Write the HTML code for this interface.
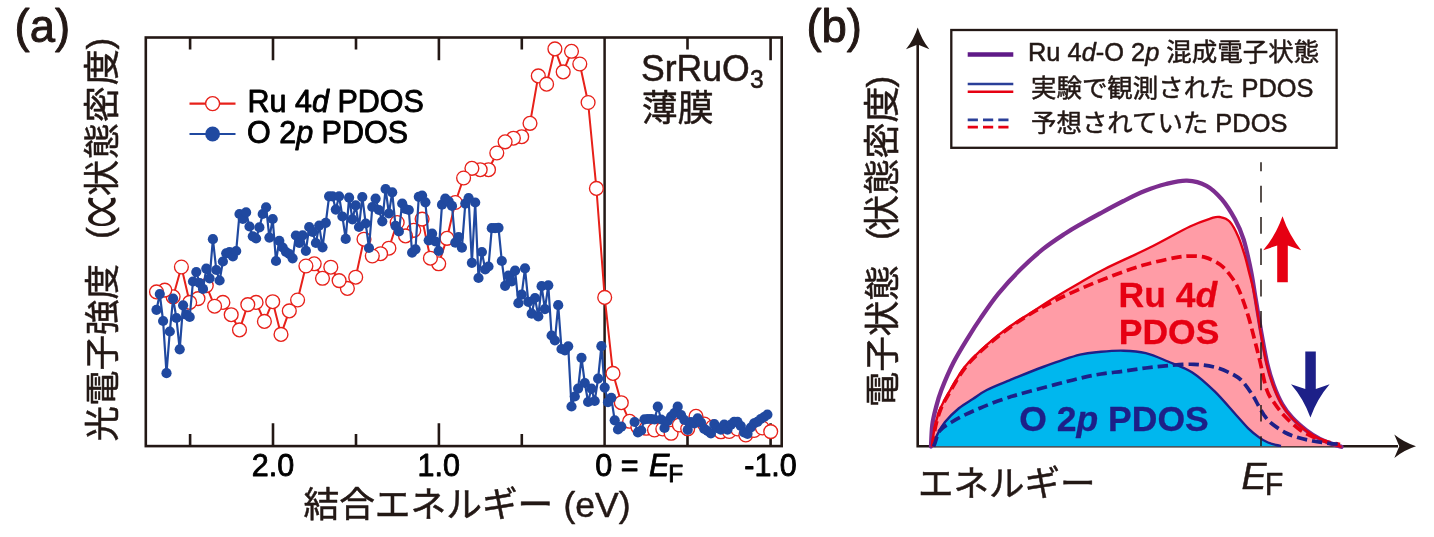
<!DOCTYPE html>
<html lang="ja"><head><meta charset="utf-8"><title>SrRuO3 PDOS</title>
<style>html,body{margin:0;padding:0;background:#fff;overflow:hidden;}svg{display:block;filter:blur(0.45px);}text{font-family:"Liberation Sans","Noto Sans CJK JP",sans-serif;fill:#231815;stroke:#231815;stroke-width:0.5px;stroke-linejoin:round;}.cj{font-family:"Noto Sans CJK JP","Liberation Sans",sans-serif;}.k{fill:#000;stroke:#000;stroke-width:0.85px;}.la{font-family:"Liberation Sans",sans-serif;}.i{font-style:italic;}.b{font-weight:bold;}</style></head><body>
<svg width="1434" height="537" viewBox="0 0 1434 537">
<rect width="1434" height="537" fill="#fff"/>
<g id="panel-a">
<text transform="translate(14.6,42.2) scale(1,1.035)" font-size="45.5" style="stroke-width:0.95px">(a)</text>
<text class="cj" transform="translate(115.3,441.5) rotate(-90)" font-size="35.5"><tspan x="0">光電子強度 </tspan><tspan class="la" x="202.5" y="-3.3">(</tspan><tspan x="214.3" y="12.8" font-size="69.2" textLength="35" lengthAdjust="spacingAndGlyphs" style="stroke:none">∝</tspan><tspan x="245.5" y="0" font-size="36" letter-spacing="0.9">状態密度</tspan><tspan class="la" x="392" y="-3.3">)</tspan></text>
<rect x="145.8" y="37.5" width="635.9" height="408.6" fill="none" stroke="#231815" stroke-width="2.6"/>
<line x1="604.6" y1="37.5" x2="604.6" y2="446.1" stroke="#231815" stroke-width="2.5"/>
<path d="M190.1 37.5v12M190.1 446.1v-12M273 37.5v22.8M273 446.1v-22.8M356 37.5v12M356 446.1v-12M438.9 37.5v22.8M438.9 446.1v-22.8M521.8 37.5v12M521.8 446.1v-12M687.5 37.5v12M687.5 446.1v-12M770.6 37.5v22.8M770.6 446.1v-22.8" stroke="#231815" stroke-width="2.6" fill="none"/>
<polyline points="156.5,291.9 164.8,290.1 173.1,296.8 181.4,267 189.7,302.4 198,298.6 206.3,285.6 214.6,306.2 222.9,302.4 231.2,314.7 239.5,329.9 247.8,304.6 256.1,302.4 264.4,321.4 272.7,301.7 281,334.4 289.3,310.9 297.6,300 305.9,266 314.2,263.8 322.5,278.3 330.8,267.2 339.1,280.6 347.4,288.4 355.7,277.2 364,239.2 372.3,256 380.6,253.7 388.9,248.2 397.2,222.5 405.5,235.9 413.8,230.3 422.1,219.1 430.4,258.2 438.7,263.8 447,238.3 455.3,202.5 463.6,178 471.9,168.3 480.2,169.7 488.5,169.7 496.8,153 505.1,141.8 513.4,138.2 521.7,136.7 530,123.3 538.3,75.9 546.6,84.2 554.9,48.9 563.2,71.9 571.5,51.3 579.8,64 588.1,102.5 596.4,188.4 604.7,297.4 613,373.4 621.3,402.7 629.6,421.3 637.9,427 646.2,428.3 654.5,430 662.8,429 671.1,433.3 679.4,425 687.7,428.8 696,416.3 704.3,424 712.6,427 720.9,431.8 729.2,431.5 737.5,429 745.8,435 754.1,430.5 762.4,428 770.7,431.6" fill="none" stroke="#e7211a" stroke-width="2" stroke-linejoin="round"/>
<g fill="#fff" stroke="#e7211a" stroke-width="1.35">
<circle cx="521.7" cy="136.7" r="6.9"/>
<circle cx="513.4" cy="138.2" r="6.9"/>
<circle cx="505.1" cy="141.8" r="6.9"/>
<circle cx="496.8" cy="153" r="6.9"/>
<circle cx="488.5" cy="169.7" r="6.9"/>
<circle cx="480.2" cy="169.7" r="6.9"/>
<circle cx="471.9" cy="168.3" r="6.9"/>
<circle cx="463.6" cy="178" r="6.9"/>
<circle cx="455.3" cy="202.5" r="6.9"/>
<circle cx="447" cy="238.3" r="6.9"/>
<circle cx="438.7" cy="263.8" r="6.9"/>
<circle cx="430.4" cy="258.2" r="6.9"/>
<circle cx="422.1" cy="219.1" r="6.9"/>
<circle cx="413.8" cy="230.3" r="6.9"/>
<circle cx="405.5" cy="235.9" r="6.9"/>
<circle cx="397.2" cy="222.5" r="6.9"/>
<circle cx="388.9" cy="248.2" r="6.9"/>
<circle cx="380.6" cy="253.7" r="6.9"/>
<circle cx="372.3" cy="256" r="6.9"/>
<circle cx="364" cy="239.2" r="6.9"/>
<circle cx="355.7" cy="277.2" r="6.9"/>
<circle cx="347.4" cy="288.4" r="6.9"/>
<circle cx="339.1" cy="280.6" r="6.9"/>
<circle cx="330.8" cy="267.2" r="6.9"/>
<circle cx="322.5" cy="278.3" r="6.9"/>
<circle cx="314.2" cy="263.8" r="6.9"/>
<circle cx="305.9" cy="266" r="6.9"/>
<circle cx="297.6" cy="300" r="6.9"/>
<circle cx="289.3" cy="310.9" r="6.9"/>
<circle cx="281" cy="334.4" r="6.9"/>
<circle cx="272.7" cy="301.7" r="6.9"/>
<circle cx="264.4" cy="321.4" r="6.9"/>
<circle cx="256.1" cy="302.4" r="6.9"/>
<circle cx="247.8" cy="304.6" r="6.9"/>
<circle cx="239.5" cy="329.9" r="6.9"/>
<circle cx="231.2" cy="314.7" r="6.9"/>
<circle cx="222.9" cy="302.4" r="6.9"/>
<circle cx="214.6" cy="306.2" r="6.9"/>
<circle cx="206.3" cy="285.6" r="6.9"/>
<circle cx="198" cy="298.6" r="6.9"/>
<circle cx="189.7" cy="302.4" r="6.9"/>
<circle cx="181.4" cy="267" r="6.9"/>
<circle cx="173.1" cy="296.8" r="6.9"/>
<circle cx="164.8" cy="290.1" r="6.9"/>
<circle cx="156.5" cy="291.9" r="6.9"/>
<circle cx="530" cy="123.3" r="6.9"/>
<circle cx="538.3" cy="75.9" r="6.9"/>
<circle cx="546.6" cy="84.2" r="6.9"/>
<circle cx="554.9" cy="48.9" r="6.9"/>
<circle cx="563.2" cy="71.9" r="6.9"/>
<circle cx="571.5" cy="51.3" r="6.9"/>
<circle cx="579.8" cy="64" r="6.9"/>
<circle cx="588.1" cy="102.5" r="6.9"/>
<circle cx="596.4" cy="188.4" r="6.9"/>
<circle cx="604.7" cy="297.4" r="6.9"/>
<circle cx="613" cy="373.4" r="6.9"/>
<circle cx="621.3" cy="402.7" r="6.9"/>
<circle cx="629.6" cy="421.3" r="6.9"/>
<circle cx="637.9" cy="427" r="6.9"/>
<circle cx="646.2" cy="428.3" r="6.9"/>
<circle cx="654.5" cy="430" r="6.9"/>
<circle cx="662.8" cy="429" r="6.9"/>
<circle cx="671.1" cy="433.3" r="6.9"/>
<circle cx="679.4" cy="425" r="6.9"/>
<circle cx="687.7" cy="428.8" r="6.9"/>
<circle cx="696" cy="416.3" r="6.9"/>
<circle cx="704.3" cy="424" r="6.9"/>
<circle cx="712.6" cy="427" r="6.9"/>
<circle cx="720.9" cy="431.8" r="6.9"/>
<circle cx="729.2" cy="431.5" r="6.9"/>
<circle cx="737.5" cy="429" r="6.9"/>
<circle cx="745.8" cy="435" r="6.9"/>
<circle cx="754.1" cy="430.5" r="6.9"/>
<circle cx="762.4" cy="428" r="6.9"/>
<circle cx="770.7" cy="431.6" r="6.9"/>
</g>
<polyline points="156.5,309.8 159.8,294.1 163.1,321 166.5,373.2 169.8,331.5 173.1,298.6 176.4,318 179.7,349.3 183.1,305.3 186.4,314.7 189.7,317 193,281.5 196.3,272 199.7,283.2 203,288.9 206.3,268.7 209.6,278.3 212.9,239.2 216.3,270 219.6,280.5 222.9,261.5 226.2,253.3 229.5,252 232.9,256.4 236.2,251 239.5,214 242.8,219 246.1,212.4 249.5,226.5 252.8,236.3 256.1,238.5 259.4,227.4 262.7,214 266.1,207.3 269.4,237.6 272.7,219 276,261 279.3,240.8 282.7,247.5 286,252 289.3,254 292.6,258.3 295.9,235.5 299.3,243 302.6,235.4 305.9,250.8 309.2,227 312.5,231.9 315.9,243 319.2,225.6 322.5,247.3 325.8,222.8 329.1,196.3 332.5,196.3 335.8,209.6 339.1,196.3 342.4,216.5 345.7,238.9 349.1,197.7 352.4,219.3 355.7,205.4 359,227 362.3,197 365.7,223.5 369,248 372.3,207 375.6,198.7 378.9,210 382.3,221.3 385.6,189 388.9,213.5 392.2,192.3 395.5,225.8 398.9,231.4 402.2,203.5 405.5,209 408.8,210 412.1,252.6 415.5,249.3 418.8,196.8 422.1,195.6 425.4,202.3 428.7,240.3 432.1,233.7 435.4,241.5 438.7,251 442,204.7 445.3,198.7 448.7,201.4 452,205.9 455.3,242.7 458.6,237 461.9,247.7 465.3,203.6 468.6,198 471.9,262.8 475.2,202.5 478.5,278 481.9,252 485.2,269.5 488.5,266.5 491.8,228.2 495.1,228.2 498.5,227.8 501.8,261 505.1,285.8 508.4,275.7 511.7,281.3 515.1,270.6 518.4,303.2 521.7,294.7 525,268.3 528.3,301.8 531.7,313.7 535,298 538.3,316.4 541.6,286.2 544.9,309.2 548.3,285.3 551.6,335.5 554.9,340.5 558.2,305.2 561.5,349 564.9,350.3 568.2,346.3 571.5,406.5 574.8,396.5 578.1,388.6 581.5,357.8 584.8,383 588.1,402 591.4,388.6 594.7,401 598.1,378.6 601.4,346.2 604.7,387.6 608,402.2 611.3,397.8 614.7,420.3 618,429.5 621.3,426.7" fill="none" stroke="#2049a0" stroke-width="2.2" stroke-linejoin="round"/>
<polyline points="634.6,422 637.9,432.4 641.2,430.5 644.5,419.3 647.9,419 651.2,419 654.5,419.5 657.8,406.7 661.1,419.5 664.5,428 667.8,421 671.1,416.5 674.4,413 677.7,406.7 681.1,415.2 684.4,420 687.7,429.8 691,422 694.3,423.3 697.7,418.4 701,422.6 704.3,428.9 707.6,431 710.9,433.5 714.3,424 717.6,428.2 720.9,429.6 724.2,424.7 727.5,429.6 730.9,424.7 734.2,421.9 737.5,421.9 740.8,426 744.1,432.4 747.5,433.8 750.8,427.5 754.1,423.3 757.4,421.9 760.7,419 764.1,417 767.4,414.6" fill="none" stroke="#2049a0" stroke-width="2.2" stroke-linejoin="round"/>
<g fill="#2049a0">
<circle cx="156.5" cy="309.8" r="5.1"/>
<circle cx="159.8" cy="294.1" r="5.1"/>
<circle cx="163.1" cy="321" r="5.1"/>
<circle cx="166.5" cy="373.2" r="5.1"/>
<circle cx="169.8" cy="331.5" r="5.1"/>
<circle cx="173.1" cy="298.6" r="5.1"/>
<circle cx="176.4" cy="318" r="5.1"/>
<circle cx="179.7" cy="349.3" r="5.1"/>
<circle cx="183.1" cy="305.3" r="5.1"/>
<circle cx="186.4" cy="314.7" r="5.1"/>
<circle cx="189.7" cy="317" r="5.1"/>
<circle cx="193" cy="281.5" r="5.1"/>
<circle cx="196.3" cy="272" r="5.1"/>
<circle cx="199.7" cy="283.2" r="5.1"/>
<circle cx="203" cy="288.9" r="5.1"/>
<circle cx="206.3" cy="268.7" r="5.1"/>
<circle cx="209.6" cy="278.3" r="5.1"/>
<circle cx="212.9" cy="239.2" r="5.1"/>
<circle cx="216.3" cy="270" r="5.1"/>
<circle cx="219.6" cy="280.5" r="5.1"/>
<circle cx="222.9" cy="261.5" r="5.1"/>
<circle cx="226.2" cy="253.3" r="5.1"/>
<circle cx="229.5" cy="252" r="5.1"/>
<circle cx="232.9" cy="256.4" r="5.1"/>
<circle cx="236.2" cy="251" r="5.1"/>
<circle cx="239.5" cy="214" r="5.1"/>
<circle cx="242.8" cy="219" r="5.1"/>
<circle cx="246.1" cy="212.4" r="5.1"/>
<circle cx="249.5" cy="226.5" r="5.1"/>
<circle cx="252.8" cy="236.3" r="5.1"/>
<circle cx="256.1" cy="238.5" r="5.1"/>
<circle cx="259.4" cy="227.4" r="5.1"/>
<circle cx="262.7" cy="214" r="5.1"/>
<circle cx="266.1" cy="207.3" r="5.1"/>
<circle cx="269.4" cy="237.6" r="5.1"/>
<circle cx="272.7" cy="219" r="5.1"/>
<circle cx="276" cy="261" r="5.1"/>
<circle cx="279.3" cy="240.8" r="5.1"/>
<circle cx="282.7" cy="247.5" r="5.1"/>
<circle cx="286" cy="252" r="5.1"/>
<circle cx="289.3" cy="254" r="5.1"/>
<circle cx="292.6" cy="258.3" r="5.1"/>
<circle cx="295.9" cy="235.5" r="5.1"/>
<circle cx="299.3" cy="243" r="5.1"/>
<circle cx="302.6" cy="235.4" r="5.1"/>
<circle cx="305.9" cy="250.8" r="5.1"/>
<circle cx="309.2" cy="227" r="5.1"/>
<circle cx="312.5" cy="231.9" r="5.1"/>
<circle cx="315.9" cy="243" r="5.1"/>
<circle cx="319.2" cy="225.6" r="5.1"/>
<circle cx="322.5" cy="247.3" r="5.1"/>
<circle cx="325.8" cy="222.8" r="5.1"/>
<circle cx="329.1" cy="196.3" r="5.1"/>
<circle cx="332.5" cy="196.3" r="5.1"/>
<circle cx="335.8" cy="209.6" r="5.1"/>
<circle cx="339.1" cy="196.3" r="5.1"/>
<circle cx="342.4" cy="216.5" r="5.1"/>
<circle cx="345.7" cy="238.9" r="5.1"/>
<circle cx="349.1" cy="197.7" r="5.1"/>
<circle cx="352.4" cy="219.3" r="5.1"/>
<circle cx="355.7" cy="205.4" r="5.1"/>
<circle cx="359" cy="227" r="5.1"/>
<circle cx="362.3" cy="197" r="5.1"/>
<circle cx="365.7" cy="223.5" r="5.1"/>
<circle cx="369" cy="248" r="5.1"/>
<circle cx="372.3" cy="207" r="5.1"/>
<circle cx="375.6" cy="198.7" r="5.1"/>
<circle cx="378.9" cy="210" r="5.1"/>
<circle cx="382.3" cy="221.3" r="5.1"/>
<circle cx="385.6" cy="189" r="5.1"/>
<circle cx="388.9" cy="213.5" r="5.1"/>
<circle cx="392.2" cy="192.3" r="5.1"/>
<circle cx="395.5" cy="225.8" r="5.1"/>
<circle cx="398.9" cy="231.4" r="5.1"/>
<circle cx="402.2" cy="203.5" r="5.1"/>
<circle cx="405.5" cy="209" r="5.1"/>
<circle cx="408.8" cy="210" r="5.1"/>
<circle cx="412.1" cy="252.6" r="5.1"/>
<circle cx="415.5" cy="249.3" r="5.1"/>
<circle cx="418.8" cy="196.8" r="5.1"/>
<circle cx="422.1" cy="195.6" r="5.1"/>
<circle cx="425.4" cy="202.3" r="5.1"/>
<circle cx="428.7" cy="240.3" r="5.1"/>
<circle cx="432.1" cy="233.7" r="5.1"/>
<circle cx="435.4" cy="241.5" r="5.1"/>
<circle cx="438.7" cy="251" r="5.1"/>
<circle cx="442" cy="204.7" r="5.1"/>
<circle cx="445.3" cy="198.7" r="5.1"/>
<circle cx="448.7" cy="201.4" r="5.1"/>
<circle cx="452" cy="205.9" r="5.1"/>
<circle cx="455.3" cy="242.7" r="5.1"/>
<circle cx="458.6" cy="237" r="5.1"/>
<circle cx="461.9" cy="247.7" r="5.1"/>
<circle cx="465.3" cy="203.6" r="5.1"/>
<circle cx="468.6" cy="198" r="5.1"/>
<circle cx="471.9" cy="262.8" r="5.1"/>
<circle cx="475.2" cy="202.5" r="5.1"/>
<circle cx="478.5" cy="278" r="5.1"/>
<circle cx="481.9" cy="252" r="5.1"/>
<circle cx="485.2" cy="269.5" r="5.1"/>
<circle cx="488.5" cy="266.5" r="5.1"/>
<circle cx="491.8" cy="228.2" r="5.1"/>
<circle cx="495.1" cy="228.2" r="5.1"/>
<circle cx="498.5" cy="227.8" r="5.1"/>
<circle cx="501.8" cy="261" r="5.1"/>
<circle cx="505.1" cy="285.8" r="5.1"/>
<circle cx="508.4" cy="275.7" r="5.1"/>
<circle cx="511.7" cy="281.3" r="5.1"/>
<circle cx="515.1" cy="270.6" r="5.1"/>
<circle cx="518.4" cy="303.2" r="5.1"/>
<circle cx="521.7" cy="294.7" r="5.1"/>
<circle cx="525" cy="268.3" r="5.1"/>
<circle cx="528.3" cy="301.8" r="5.1"/>
<circle cx="531.7" cy="313.7" r="5.1"/>
<circle cx="535" cy="298" r="5.1"/>
<circle cx="538.3" cy="316.4" r="5.1"/>
<circle cx="541.6" cy="286.2" r="5.1"/>
<circle cx="544.9" cy="309.2" r="5.1"/>
<circle cx="548.3" cy="285.3" r="5.1"/>
<circle cx="551.6" cy="335.5" r="5.1"/>
<circle cx="554.9" cy="340.5" r="5.1"/>
<circle cx="558.2" cy="305.2" r="5.1"/>
<circle cx="561.5" cy="349" r="5.1"/>
<circle cx="564.9" cy="350.3" r="5.1"/>
<circle cx="568.2" cy="346.3" r="5.1"/>
<circle cx="571.5" cy="406.5" r="5.1"/>
<circle cx="574.8" cy="396.5" r="5.1"/>
<circle cx="578.1" cy="388.6" r="5.1"/>
<circle cx="581.5" cy="357.8" r="5.1"/>
<circle cx="584.8" cy="383" r="5.1"/>
<circle cx="588.1" cy="402" r="5.1"/>
<circle cx="591.4" cy="388.6" r="5.1"/>
<circle cx="594.7" cy="401" r="5.1"/>
<circle cx="598.1" cy="378.6" r="5.1"/>
<circle cx="601.4" cy="346.2" r="5.1"/>
<circle cx="604.7" cy="387.6" r="5.1"/>
<circle cx="608" cy="402.2" r="5.1"/>
<circle cx="611.3" cy="397.8" r="5.1"/>
<circle cx="614.7" cy="420.3" r="5.1"/>
<circle cx="618" cy="429.5" r="5.1"/>
<circle cx="621.3" cy="426.7" r="5.1"/>
<circle cx="634.6" cy="422" r="5.1"/>
<circle cx="637.9" cy="432.4" r="5.1"/>
<circle cx="641.2" cy="430.5" r="5.1"/>
<circle cx="644.5" cy="419.3" r="5.1"/>
<circle cx="647.9" cy="419" r="5.1"/>
<circle cx="651.2" cy="419" r="5.1"/>
<circle cx="654.5" cy="419.5" r="5.1"/>
<circle cx="657.8" cy="406.7" r="5.1"/>
<circle cx="661.1" cy="419.5" r="5.1"/>
<circle cx="664.5" cy="428" r="5.1"/>
<circle cx="667.8" cy="421" r="5.1"/>
<circle cx="671.1" cy="416.5" r="5.1"/>
<circle cx="674.4" cy="413" r="5.1"/>
<circle cx="677.7" cy="406.7" r="5.1"/>
<circle cx="681.1" cy="415.2" r="5.1"/>
<circle cx="684.4" cy="420" r="5.1"/>
<circle cx="687.7" cy="429.8" r="5.1"/>
<circle cx="691" cy="422" r="5.1"/>
<circle cx="694.3" cy="423.3" r="5.1"/>
<circle cx="697.7" cy="418.4" r="5.1"/>
<circle cx="701" cy="422.6" r="5.1"/>
<circle cx="704.3" cy="428.9" r="5.1"/>
<circle cx="707.6" cy="431" r="5.1"/>
<circle cx="710.9" cy="433.5" r="5.1"/>
<circle cx="714.3" cy="424" r="5.1"/>
<circle cx="717.6" cy="428.2" r="5.1"/>
<circle cx="720.9" cy="429.6" r="5.1"/>
<circle cx="724.2" cy="424.7" r="5.1"/>
<circle cx="727.5" cy="429.6" r="5.1"/>
<circle cx="730.9" cy="424.7" r="5.1"/>
<circle cx="734.2" cy="421.9" r="5.1"/>
<circle cx="737.5" cy="421.9" r="5.1"/>
<circle cx="740.8" cy="426" r="5.1"/>
<circle cx="744.1" cy="432.4" r="5.1"/>
<circle cx="747.5" cy="433.8" r="5.1"/>
<circle cx="750.8" cy="427.5" r="5.1"/>
<circle cx="754.1" cy="423.3" r="5.1"/>
<circle cx="757.4" cy="421.9" r="5.1"/>
<circle cx="760.7" cy="419" r="5.1"/>
<circle cx="764.1" cy="417" r="5.1"/>
<circle cx="767.4" cy="414.6" r="5.1"/>
</g>
<line x1="189.5" y1="103.6" x2="235.5" y2="103.6" stroke="#e7211a" stroke-width="2.1"/>
<circle cx="212.6" cy="103.6" r="7" fill="#fff" stroke="#e7211a" stroke-width="1.4"/>
<line x1="189.5" y1="134" x2="235.5" y2="134" stroke="#2049a0" stroke-width="2.1"/>
<circle cx="212.6" cy="134" r="7.4" fill="#2049a0"/>
<text class="k" x="247.6" y="111.8" font-size="30.5">Ru 4<tspan class="i">d</tspan> PDOS</text>
<text class="k" x="247" y="142.9" font-size="30.5">O 2<tspan class="i">p</tspan> PDOS</text>
<text transform="translate(641,81) scale(1,1.05)" font-size="35.6">SrRuO<tspan font-size="24.5" dy="6.8" dx="0.3">3</tspan></text>
<text class="cj" x="641.8" y="121.2" font-size="36">薄膜</text>
<text class="k" x="273" y="475.8" font-size="30.5" text-anchor="middle">2.0</text>
<text class="k" x="438.7" y="475.8" font-size="30.5" text-anchor="middle">1.0</text>
<text class="k" x="595.3" y="475.8" font-size="30.5">0 = <tspan class="i" dx="2">E</tspan><tspan font-size="24.5" dy="6.5" dx="-1.2">F</tspan></text>
<text class="k" x="770.5" y="475.8" font-size="30.5" text-anchor="middle">-1.0</text>
<text x="303.5" y="517" font-size="35.5"><tspan class="cj" font-size="35.7">結合エネルギー</tspan><tspan x="553.7"> (eV)</tspan></text>
</g>
<g id="panel-b">
<text transform="translate(806.4,42.2) scale(1,1.035)" font-size="45.5" style="stroke-width:0.95px">(b)</text>
<text class="cj" transform="translate(895,407.2) rotate(-90)" font-size="35.5"><tspan x="0">電子状態 </tspan><tspan class="la" x="167.2" y="-3.3">(</tspan><tspan x="176.2" y="0" font-size="36" letter-spacing="0.2">状態密度</tspan><tspan class="la" x="319.7" y="-3.3">)</tspan></text>
<path d="M917.7 40V446.3H1398" fill="none" stroke="#231815" stroke-width="2.6"/>
<path d="M934.4 429C935.2 426 937.3 416.3 939.3 411C941.3 405.7 942.1 404.3 946.3 397C950.5 389.7 957.9 375.7 964.7 367C971.5 358.3 979.5 351.4 987 344.7C994.5 338 1001.9 332.2 1009.4 326.8C1016.9 321.4 1024.3 317.1 1031.7 312.3C1039.1 307.5 1046 302.9 1054 298C1062 293.1 1071.5 287.5 1080 282.7C1088.5 277.9 1093.1 274.8 1104.7 269C1116.3 263.2 1135.2 254.9 1149.4 247.8C1163.6 240.7 1179.6 231.4 1190 226.5C1200.4 221.6 1206.8 219.8 1211.7 218.2C1216.6 216.6 1216.6 216.4 1219.6 217C1222.6 217.6 1226.4 218.1 1229.6 221.5C1232.8 224.9 1235.9 231.2 1238.5 237.2C1241.1 243.2 1243.5 251.5 1245.3 257.3C1247 263.1 1247.5 266 1249 272C1250.5 278 1252.2 283.2 1254.2 293.5C1256.2 303.8 1258.8 322 1260.9 333.7C1263 345.4 1264.6 354.9 1266.6 363.5C1268.6 372.1 1270.5 378.2 1273 385C1275.5 391.8 1278.6 398.9 1281.7 404.3C1284.8 409.7 1287.5 413.1 1291.5 417.5C1295.5 421.9 1301.2 426.9 1305.9 430.5C1310.6 434.1 1315.2 436.6 1319.8 438.9C1324.4 441.2 1331.5 443.6 1333.8 444.5L1341.5 446.3H932Z" fill="#ff9ca6" stroke="none"/>
<path d="M931 446.5C931.2 442.9 931.5 431.4 932.3 425C933.1 418.6 934.3 414 935.8 408.2C937.3 402.4 938.4 397.6 941.4 390C944.4 382.4 948.9 371.6 953.5 362.6C958.1 353.6 964.7 343.2 969.2 335.8C973.7 328.4 975.7 325.4 980.5 318.4C985.3 311.4 991.5 302.1 998.2 293.9C1004.9 285.7 1013.1 276.8 1020.6 269.3C1028 261.9 1035.5 255.2 1042.9 249.2C1050.4 243.2 1059.1 237.6 1065.3 233.5C1071.5 229.4 1074.2 227.9 1080 224.6C1085.8 221.3 1092.8 217.4 1100 213.5C1107.2 209.6 1116 204.8 1123.5 201C1131 197.2 1137.6 193.8 1144.7 191C1151.8 188.2 1159 185.7 1166 184C1173 182.3 1180.2 180.4 1187 180.7C1193.8 181 1200.7 182.7 1206.5 185.8C1212.3 188.9 1217 193.6 1221.7 199.2C1226.5 204.8 1231.3 212.6 1235 219.3C1238.7 226 1241 231.2 1243.6 239.4C1246.2 247.6 1248.6 259.4 1250.5 268.4C1252.4 277.4 1253 282.6 1254.8 293.5C1256.6 304.4 1259.4 322 1261.5 333.7C1263.6 345.4 1265.2 354.9 1267.2 363.5C1269.2 372.1 1271.1 378.2 1273.6 385C1276.1 391.8 1279.2 398.9 1282.3 404.3C1285.4 409.7 1288.1 413.1 1292.1 417.5C1296.1 421.9 1301.9 426.9 1306.5 430.5C1311.1 434.1 1315.2 436.6 1319.8 438.9C1324.3 441.2 1330.2 443.2 1333.8 444.5C1337.4 445.8 1340.2 446.4 1341.5 446.8" fill="none" stroke="#7c2d8f" stroke-width="4.3" stroke-linecap="round"/>
<path d="M932 446.5C932.4 443.6 933.2 434.9 934.4 429C935.6 423.1 937.3 416.3 939.3 411C941.3 405.7 942.1 404.3 946.3 397C950.5 389.7 957.9 375.7 964.7 367C971.5 358.3 979.5 351.4 987 344.7C994.5 338 1001.9 332.2 1009.4 326.8C1016.9 321.4 1024.3 317.1 1031.7 312.3C1039.1 307.5 1046 302.9 1054 298C1062 293.1 1071.5 287.5 1080 282.7C1088.5 277.9 1093.1 274.8 1104.7 269C1116.3 263.2 1135.2 254.9 1149.4 247.8C1163.6 240.7 1179.6 231.4 1190 226.5C1200.4 221.6 1206.8 219.8 1211.7 218.2C1216.6 216.6 1216.6 216.4 1219.6 217C1222.6 217.6 1226.4 218.1 1229.6 221.5C1232.8 224.9 1235.9 231.2 1238.5 237.2C1241.1 243.2 1243.5 251.5 1245.3 257.3C1247 263.1 1247.5 266 1249 272C1250.5 278 1252.2 283.2 1254.2 293.5C1256.2 303.8 1258.8 322 1260.9 333.7C1263 345.4 1264.6 354.9 1266.6 363.5C1268.6 372.1 1270.5 378.2 1273 385C1275.5 391.8 1278.6 398.9 1281.7 404.3C1284.8 409.7 1287.5 413.1 1291.5 417.5C1295.5 421.9 1301.2 426.9 1305.9 430.5C1310.6 434.1 1315.2 436.6 1319.8 438.9C1324.4 441.2 1330.2 443.2 1333.8 444.5C1337.4 445.8 1340.2 446.4 1341.5 446.8" fill="none" stroke="#e60012" stroke-width="2.4"/>
<path d="M937.2 434.7C938.5 432.6 941.4 426.4 945 422C948.6 417.6 954.3 412 958.9 408.2C963.5 404.4 968.1 402 972.8 399C977.4 396 980.7 393.1 986.8 390C992.9 386.9 1000 384.2 1009.4 380.4C1018.8 376.6 1031.1 371.3 1042.9 367C1054.7 362.7 1070.3 357.2 1080 354.7C1089.7 352.2 1093.8 352.5 1101 351.8C1108.2 351.1 1116 350.5 1123.5 350.7C1131 350.9 1138.4 351.4 1145.8 353.2C1153.2 355 1160.2 358.3 1168 361.5C1175.8 364.7 1184.5 367.4 1192.3 372.4C1200.1 377.4 1207.2 384.1 1214.7 391.4C1222.2 398.7 1231.4 409.9 1237 416C1242.6 422.1 1244.5 424.7 1248.2 428.3C1251.9 431.9 1256.1 435.2 1259.4 437.6C1262.7 440 1265.2 441.3 1268 442.5C1270.8 443.7 1274.7 444.6 1276 445L1281 446.3H933Z" fill="#00b7ee" stroke="none"/>
<path d="M933 446.5C933.7 444.5 935.2 438.8 937.2 434.7C939.2 430.6 941.4 426.4 945 422C948.6 417.6 954.3 412 958.9 408.2C963.5 404.4 968.1 402 972.8 399C977.4 396 980.7 393.1 986.8 390C992.9 386.9 1000 384.2 1009.4 380.4C1018.8 376.6 1031.1 371.3 1042.9 367C1054.7 362.7 1070.3 357.2 1080 354.7C1089.7 352.2 1093.8 352.5 1101 351.8C1108.2 351.1 1116 350.5 1123.5 350.7C1131 350.9 1138.4 351.4 1145.8 353.2C1153.2 355 1160.2 358.3 1168 361.5C1175.8 364.7 1184.5 367.4 1192.3 372.4C1200.1 377.4 1207.2 384.1 1214.7 391.4C1222.2 398.7 1231.4 409.9 1237 416C1242.6 422.1 1244.5 424.7 1248.2 428.3C1251.9 431.9 1256.1 435.2 1259.4 437.6C1262.7 440 1265.2 441.3 1268 442.5C1270.8 443.7 1273.8 444.4 1276 445C1278.2 445.6 1280.2 445.8 1281 446" fill="none" stroke="#1d2088" stroke-width="2.4"/>
<path d="M932.5 446.5C932.9 443.6 933.8 434.9 935 429C936.2 423.1 938 416.3 940 411C942 405.7 942.8 404.2 947 397C951.2 389.8 958.5 376.1 965.3 367.5C972 358.9 980.1 351.9 987.5 345.3C994.9 338.7 1002.4 333 1009.8 327.6C1017.2 322.2 1024.6 317.4 1032 313C1039.4 308.6 1045.6 305.2 1054 301C1062.4 296.8 1072.5 292.2 1082.3 288C1092 283.8 1102.4 279.6 1112.5 275.8C1122.6 272 1132.5 268.3 1142.7 265.3C1153 262.3 1166.2 259.4 1174 257.9C1181.8 256.4 1184.4 256.2 1189.6 256.1C1194.8 256 1200.2 256 1205.3 257.4C1210.4 258.8 1215.9 261.7 1220 264.6C1224.1 267.5 1226.9 270.9 1230 275C1233.1 279.1 1235.6 282.6 1238.5 289C1241.4 295.4 1244.9 305.4 1247.5 313.6C1250.1 321.8 1252.2 330.4 1254.2 338.2C1256.2 346 1257.7 352 1259.8 360.6C1261.9 369.2 1264.3 382.8 1266.8 390C1269.3 397.2 1272 399.6 1275 404C1278 408.4 1281 412.3 1285 416.5C1289 420.7 1294.3 425.6 1298.9 429C1303.5 432.4 1308.2 434.7 1312.8 436.8C1317.4 438.9 1322.3 440.4 1326.8 441.7C1331.3 443 1337.8 444 1340 444.5" fill="none" stroke="#e60012" stroke-width="3.7" stroke-dasharray="10.4 5"/>
<path d="M933.5 446.5C933.8 445.9 933.9 445.7 935 443C936.1 440.3 937.2 434 940 430.5C942.8 427 947.6 424.7 951.9 422C956.2 419.3 961.2 416.7 965.9 414.4C970.5 412.1 975.1 410.2 979.8 408.2C984.4 406.2 988.8 404.5 993.8 402.6C998.8 400.7 1005.5 398.4 1010 397C1014.5 395.6 1013.3 395.9 1020.6 393.9C1027.9 391.9 1044.1 387.5 1054 384.9C1063.9 382.3 1072.2 380 1080 378.2C1087.8 376.4 1093.8 375.2 1101 374C1108.2 372.8 1116 372.2 1123.5 371.2C1131 370.2 1138.4 368.9 1145.8 368C1153.2 367.1 1160 366.2 1168 365.6C1176 365 1185.9 364 1193.9 364.3C1201.9 364.6 1209.3 365.7 1216 367.5C1222.7 369.3 1229.5 372.6 1234 375C1238.5 377.4 1239.9 378.6 1243 382C1246.1 385.4 1250.2 391.6 1252.8 395.5C1255.4 399.4 1256.5 402.2 1258.4 405.5C1260.3 408.8 1261.9 412.1 1264 415C1266.1 417.9 1267.5 420.1 1271 423C1274.5 425.9 1280.3 430 1285 432.5C1289.7 435 1294.3 436.4 1298.9 437.8C1303.5 439.2 1308.2 440.1 1312.8 441C1317.4 441.9 1321.9 442.4 1326.8 443C1331.7 443.6 1339.5 444.2 1342 444.5" fill="none" stroke="#1d2088" stroke-width="3.7" stroke-dasharray="10.4 5"/>
<line x1="1261" y1="162.3" x2="1261" y2="446" stroke="#231815" stroke-width="1.5" stroke-dasharray="8.9 14.6 16.7 14.6 16.7 14.6 16.7 14.6 16.7 14.6 16.7 14.6 16.7 14.6 16.7 14.6 16.7 14.6 16.7 14.6"/>
<path d="M917.7 27.5Q921.5 39.5 929.4 49.3L917.7 44.4L906 49.3Q913.9 39.5 917.7 27.5Z" fill="#231815"/>
<path d="M1416 446.3Q1404 450.1 1394.3 458L1399.3 446.3L1394.3 434.6Q1404 442.5 1416 446.3Z" fill="#231815"/>
<path d="M1282.5 216.2Q1289.3 235.6 1301.2 250.2L1287.8 245.6V282.3H1277.2V245.6L1263.2 250.2Q1275.7 235.6 1282.5 216.2Z" fill="#e60012"/>
<path d="M1310.4 417.6Q1303.7 398.8 1291 384.3L1305.3 389V351.6H1315.8V389L1329.6 384.3Q1317.1 398.8 1310.4 417.6Z" fill="#1d2088"/>
<text class="b" x="1118.6" y="307.2" font-size="35.5" style="fill:#e60012;stroke:#e60012;stroke-width:0.3px">Ru 4<tspan class="i">d</tspan></text>
<text class="b" x="1118.8" y="344.3" font-size="35.5" style="fill:#e60012;stroke:#e60012;stroke-width:0.3px">PDOS</text>
<text class="b" x="1019.3" y="431.2" font-size="35.5" style="fill:#1d2088;stroke:#1d2088;stroke-width:0.3px">O 2<tspan class="i">p</tspan> PDOS</text>
<rect x="951.3" y="30" width="385.3" height="117.8" fill="#fff" stroke="#231815" stroke-width="2.3"/>
<line x1="967.7" y1="54.4" x2="1013.3" y2="54.4" stroke="#5f1a87" stroke-width="4.5"/>
<line x1="967.7" y1="84" x2="1013.3" y2="84" stroke="#2a3f98" stroke-width="2.6"/>
<line x1="967.7" y1="91.7" x2="1013.3" y2="91.7" stroke="#e60012" stroke-width="2.6"/>
<line x1="967.7" y1="119.8" x2="1008.5" y2="119.8" stroke="#2a3f98" stroke-width="2.8" stroke-dasharray="10.2 5.1"/>
<line x1="967.7" y1="127.2" x2="1008.5" y2="127.2" stroke="#e60012" stroke-width="2.8" stroke-dasharray="10.2 5.1"/>
<text x="1028" y="61.3" font-size="25.4">Ru 4<tspan class="i">d</tspan>-O 2<tspan class="i">p</tspan> <tspan class="cj" font-size="25.5">混成電子状態</tspan></text>
<text x="1031" y="97" font-size="25.4"><tspan class="cj" font-size="25.45">実験で観測された</tspan> PDOS</text>
<text x="1031" y="131.8" font-size="25.4"><tspan class="cj" font-size="25.45">予想されていた</tspan> PDOS</text>
<text class="cj" x="918" y="496" font-size="35.5">エネルギー</text>
<text x="1241.6" y="488.8" font-size="37.5"><tspan class="i">E</tspan><tspan font-size="30.5" dy="5.8" dx="-1.8">F</tspan></text>
</g>
</svg></body></html>
